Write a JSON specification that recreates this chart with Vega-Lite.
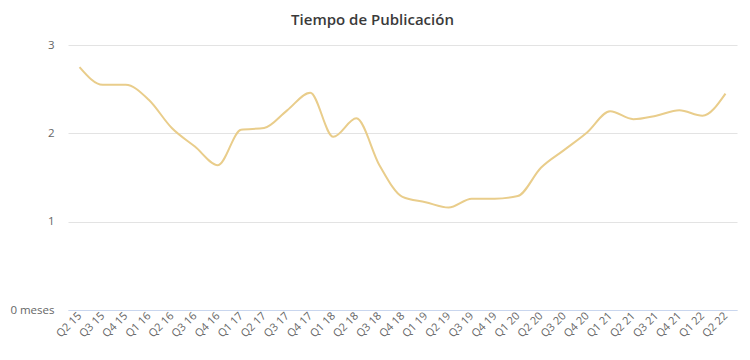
{
  "$schema": "https://vega.github.io/schema/vega-lite/v6.json",
  "width": 669,
  "height": 265,
  "autosize": {"type": "none"},
  "padding": {"left": 68, "top": 45, "right": 13, "bottom": 50},
  "background": "white",
  "title": {
    "text": "Tiempo de Publicación",
    "font": "Open Sans",
    "fontSize": 15,
    "fontWeight": 600,
    "color": "#3a3a3a",
    "anchor": "middle",
    "offset": 11,
    "dx": -30
  },
  "config": {
    "view": {"stroke": null},
    "font": "Open Sans"
  },
  "data": {
    "values": [
      {"q": "Q2 15", "v": 2.75},
      {"q": "Q3 15", "v": 2.55},
      {"q": "Q4 15", "v": 2.55},
      {"q": "Q1 16", "v": 2.38},
      {"q": "Q2 16", "v": 2.06},
      {"q": "Q3 16", "v": 1.85},
      {"q": "Q4 16", "v": 1.64},
      {"q": "Q1 17", "v": 2.04},
      {"q": "Q2 17", "v": 2.06},
      {"q": "Q3 17", "v": 2.26},
      {"q": "Q4 17", "v": 2.46},
      {"q": "Q1 18", "v": 1.96},
      {"q": "Q2 18", "v": 2.17},
      {"q": "Q3 18", "v": 1.64},
      {"q": "Q4 18", "v": 1.28},
      {"q": "Q1 19", "v": 1.22},
      {"q": "Q2 19", "v": 1.16},
      {"q": "Q3 19", "v": 1.26},
      {"q": "Q4 19", "v": 1.26},
      {"q": "Q1 20", "v": 1.29},
      {"q": "Q2 20", "v": 1.61},
      {"q": "Q3 20", "v": 1.81},
      {"q": "Q4 20", "v": 2.01},
      {"q": "Q1 21", "v": 2.25},
      {"q": "Q2 21", "v": 2.16},
      {"q": "Q3 21", "v": 2.2},
      {"q": "Q4 21", "v": 2.26},
      {"q": "Q1 22", "v": 2.2},
      {"q": "Q2 22", "v": 2.45}
    ]
  },
  "mark": {"type": "line", "interpolate": "monotone", "color": "#E9CD8B", "strokeWidth": 2},
  "encoding": {
    "x": {
      "field": "q",
      "type": "ordinal",
      "sort": null,
      "scale": {"type": "point", "padding": 0.5},
      "axis": {
        "title": null,
        "labelAngle": -45,
        "labelAlign": "right",
        "labelBaseline": "middle",
        "labelFontSize": 11,
        "labelColor": "#666666",
        "labelPadding": 4,
        "ticks": false,
        "domainColor": "#C9D6EE",
        "domainWidth": 1,
        "grid": false
      }
    },
    "y": {
      "field": "v",
      "type": "quantitative",
      "scale": {"domain": [0, 3]},
      "axis": {
        "title": null,
        "values": [0, 1, 2, 3],
        "labelExpr": "datum.value == 0 ? '0 meses' : datum.label",
        "labelFontSize": 11.5,
        "labelColor": "#666666",
        "labelPadding": 14,
        "ticks": false,
        "domain": false,
        "gridColor": "#E3E3E3",
        "gridWidth": 1
      }
    }
  }
}
